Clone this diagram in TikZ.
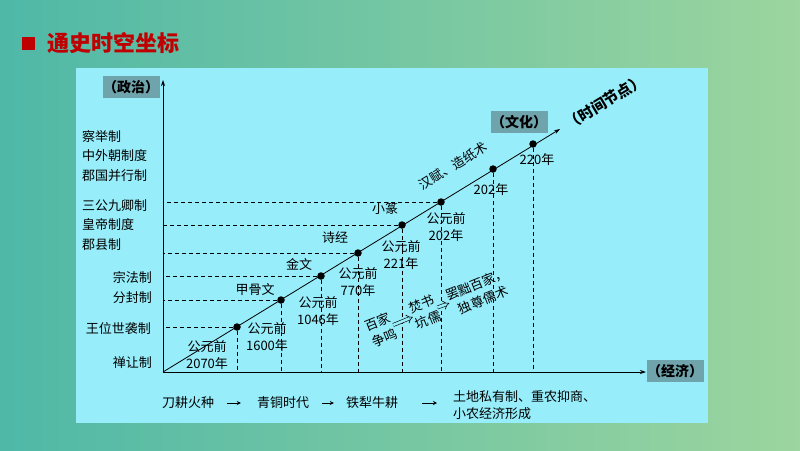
\documentclass[tikz,border=0pt]{standalone}
\usepackage{fontspec}
\setmainfont{Noto Sans CJK SC}
\usetikzlibrary{arrows.meta,positioning}
\definecolor{bgl}{HTML}{4FB8A7}
\definecolor{bgr}{HTML}{9CD59E}
\definecolor{panel}{HTML}{97EDFA}
\definecolor{tagbg}{HTML}{6FA4AC}
\definecolor{headred}{HTML}{C00000}
\tikzset{
  lab/.style={font=\fontsize{13}{17}\selectfont, inner sep=0pt, align=center, text=black},
  tag/.style={fill=tagbg, font=\fontsize{14}{16}\selectfont\bfseries, inner sep=0pt,
              minimum width=57pt, minimum height=22pt},
  dotmark/.style={circle, fill=black, inner sep=0pt, minimum size=7.5pt},
  guide/.style={dash pattern=on 4pt off 3pt, line width=0.7pt},
  axis/.style={-{Stealth[length=6pt,width=4pt]}, line width=0.8pt},
  flow/.style={-{Stealth[length=4pt,width=4pt]}, line width=0.8pt},
  imp/.style={double=panel, double distance=2.6pt, line width=0.6pt, -{Implies}},
}
\begin{document}
\begin{tikzpicture}[x=1pt,y=-1pt]
  % background
  \shade[left color=bgl, right color=bgr] (0,0) rectangle (800,450);
  \useasboundingbox (0,0) rectangle (800,450);
  \fill[panel] (76,68) rectangle (708,423);

  % title
  \node[fill=headred, minimum size=13pt, inner sep=0pt] (sq) at (28,43) {};
  \node[anchor=west, text=headred, font=\fontsize{22}{24}\selectfont\bfseries, inner sep=0pt]
    (title) at (47,43) {通史时空坐标};

  % axes
  \coordinate (O) at (163,372);
  \coordinate (ytip) at (163,80);
  \coordinate (xtip) at (646,372);
  \coordinate (ttip) at (560,129);
  \draw[axis] (O) -- (ytip);
  \draw[axis] (O) -- (xtip);
  \draw[axis] (O) -- (ttip);
  \node[tag] (zheng) at (131,87) {（政治）};
  \node[tag] (jing) at (675,371) {（经济）};
  \node[tag] (wen) at (519,122) {（文化）};
  \node[font=\fontsize{15}{17}\selectfont\bfseries, rotate=31, inner sep=0pt]
    (tnode) at (605,102) {（时间节点）};

  % time points
  \node[dotmark] (d1) at (237,327) {};
  \node[dotmark] (d2) at (281,300) {};
  \node[dotmark] (d3) at (321,276) {};
  \node[dotmark] (d4) at (358,253) {};
  \node[dotmark] (d5) at (402,225) {};
  \node[dotmark] (d6) at (441,202) {};
  \node[dotmark] (d7) at (493,169) {};
  \node[dotmark] (d8) at (533,144) {};
  \foreach \d in {d1,d2,d3,d4,d5,d6}
    \draw[guide] (\d) -- (\d -| O);
  \foreach \d in {d1,d2,d3,d4,d5,d6,d7,d8}
    \draw[guide] (\d) -- (\d |- O);

  % politics
  \node[lab, anchor=west] (p1) at (82,137) {察举制};
  \node[lab, anchor=west] (p2) at (82,156) {中外朝制度};
  \node[lab, anchor=west] (p3) at (82,176) {郡国并行制};
  \node[lab, anchor=west] (p4) at (82,206) {三公九卿制};
  \node[lab, anchor=west] (p5) at (82,225) {皇帝制度};
  \node[lab, anchor=west] (p6) at (82,245) {郡县制};
  \node[lab, anchor=east] (p7) at (152,277) {宗法制};
  \node[lab, anchor=east] (p8) at (152,298) {分封制};
  \node[lab, anchor=east] (p9) at (151,329) {王位世袭制};
  \node[lab, anchor=east] (p10) at (152,363) {禅让制};

  % dates
  \node[lab] (t1) at (207,355) {公元前\\2070年};
  \node[lab] (t2) at (267,337) {公元前\\1600年};
  \node[lab] (t3) at (318,311) {公元前\\1046年};
  \node[lab] (t4) at (358,282) {公元前\\770年};
  \node[lab] (t5) at (401,255) {公元前\\221年};
  \node[lab] (t6) at (446,227) {公元前\\202年};
  \node[lab] (t7) at (491,190) {202年};
  \node[lab] (t8) at (537,160) {220年};

  % culture
  \node[lab] (c1) at (255,290) {甲骨文};
  \node[lab] (c2) at (299,264) {金文};
  \node[lab] (c3) at (335,238) {诗经};
  \node[lab] (c4) at (385,208) {小篆};
  \node[lab, rotate=31] (c5) at (453,166) {汉赋、造纸术};
  \node[lab, rotate=22] (bj) at (381,330) {百家\\争鸣};
  \node[lab, rotate=22] (fs) at (425,312) {焚书\\坑儒};
  \node[lab, rotate=22] (bc) at (480,292) {罢黜百家，\\独尊儒术};
  \draw[imp] (bj) -- (fs);
  \draw[imp] (fs) -- (bc);

  % economy
  \node[lab] (e1) at (188,403) {刀耕火种};
  \node[lab] (e2) at (283,403) {青铜时代};
  \node[lab] (e3) at (372,403) {铁犁牛耕};
  \node[lab, align=left, anchor=west] (e4) at (453,405) {土地私有制、重农抑商、\\小农经济形成};
  \draw[flow, shorten <=13pt, shorten >=16pt] (e1) -- (e2);
  \draw[flow, shorten <=13pt, shorten >=12pt] (e2) -- (e3);
  \draw[flow, shorten <=24pt, shorten >=16pt] (e3) -- (e3 -| e4.west);
\end{tikzpicture}
\end{document}
